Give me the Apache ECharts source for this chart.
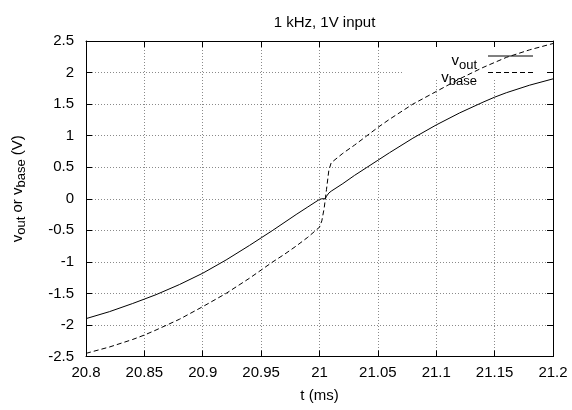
<!DOCTYPE html>
<html>
<head>
<meta charset="utf-8">
<script src="https://cdn.jsdelivr.net/npm/echarts@6/dist/echarts.min.js"></script>
<style>html,body{margin:0;padding:0;background:#fff;}#c{width:572px;height:410px;}</style>
</head>
<body>
<div id="c"></div>
<script>
const title = '1 kHz, 1V input';
const xTicks = [20.8, 20.85, 20.9, 20.95, 21, 21.05, 21.1, 21.15, 21.2];
const yTicks = [-2.5, -2, -1.5, -1, -0.5, 0, 0.5, 1, 1.5, 2, 2.5];
const tOut = [20.80, 20.82, 20.84, 20.85, 20.86, 20.88, 20.90, 20.92, 20.94, 20.95, 20.96, 20.98, 20.99, 21.00, 21.002, 21.005, 21.006, 21.008, 21.01, 21.02, 21.03, 21.04, 21.05, 21.06, 21.08, 21.10, 21.12, 21.14, 21.15, 21.16, 21.18, 21.20];
const vOut = [-1.90, -1.79, -1.66, -1.59, -1.52, -1.36, -1.18, -0.97, -0.74, -0.62, -0.50, -0.25, -0.13, -0.01, 0.0, 0.0, 0.04, 0.09, 0.12, 0.24, 0.37, 0.49, 0.61, 0.73, 0.96, 1.17, 1.36, 1.53, 1.61, 1.68, 1.80, 1.90];
const tBase = [20.80, 20.82, 20.84, 20.85, 20.86, 20.88, 20.90, 20.92, 20.94, 20.95, 20.96, 20.97, 20.98, 20.99, 21.00, 21.002, 21.004, 21.006, 21.008, 21.010, 21.02, 21.03, 21.04, 21.05, 21.06, 21.08, 21.10, 21.12, 21.14, 21.15, 21.16, 21.18, 21.20];
const vBase = [-2.45, -2.35, -2.23, -2.16, -2.08, -1.91, -1.71, -1.50, -1.26, -1.13, -1.00, -0.88, -0.75, -0.61, -0.45, -0.35, -0.15, 0.15, 0.45, 0.57, 0.72, 0.85, 0.99, 1.13, 1.26, 1.50, 1.70, 1.90, 2.08, 2.16, 2.24, 2.36, 2.46];
const legendNames = ['out', 'base'];

const FONT = 'Liberation Sans';
const chart = echarts.init(document.getElementById('c'), null, {renderer: 'canvas'});
const fmt = v => String(+v.toFixed(2));
const splitStyle = {show: true, lineStyle: {color: '#8a8a8a', type: [1, 2], width: 1}};
const subRich = {a: {fontFamily: FONT, fontSize: 15, color: '#000'}, b: {fontFamily: FONT, fontSize: 13, color: '#000', padding: [8, 0, 0, 0]}};
const legendGraphics = [{type: 'rect', z: 1, silent: true, shape: {x: 403, y: 42, width: 145, height: 38}, style: {fill: '#fff'}}];
legendNames.forEach((n, i) => {
  const ly = 56 + i * 16.5;
  legendGraphics.push({type: 'text', z: 5, x: 477, y: ly + 5, style: {text: '{a|v}{b|' + n + '}', rich: subRich, align: 'right', verticalAlign: 'middle', fill: '#000'}});
  legendGraphics.push({type: 'line', z: 5, shape: {x1: 488, y1: ly, x2: 533, y2: ly}, style: {stroke: '#000', lineWidth: 1, lineDash: i === 0 ? null : [5, 3]}});
});
chart.setOption({
  animation: false,
  backgroundColor: '#fff',
  title: {text: title, left: 319.5, textAlign: 'center', top: 10, textStyle: {fontFamily: FONT, fontSize: 15, fontWeight: 'normal', color: '#000'}},
  grid: {left: 86, right: 19, top: 41, bottom: 53.5},
  graphic: legendGraphics,
  xAxis: [{
    type: 'value', min: 20.8, max: 21.2, interval: 0.05,
    name: 't (ms)', nameLocation: 'middle', nameGap: 32,
    nameTextStyle: {fontFamily: FONT, fontSize: 15, color: '#000'},
    axisLine: {show: true, onZero: false, lineStyle: {color: '#000', width: 1}},
    axisTick: {show: true, inside: true, length: 6, lineStyle: {color: '#000'}},
    axisLabel: {fontFamily: FONT, fontSize: 15, color: '#000', margin: 9, formatter: fmt},
    splitLine: splitStyle
  }, {
    type: 'value', position: 'top', min: 20.8, max: 21.2, interval: 0.05, z: 3,
    axisLine: {show: true, onZero: false, lineStyle: {color: '#000', width: 1}},
    axisTick: {show: true, inside: true, length: 6, lineStyle: {color: '#000'}},
    axisLabel: {show: false}, splitLine: {show: false}
  }],
  yAxis: [{
    type: 'value', min: -2.5, max: 2.5, interval: 0.5,
    name: '{a|v}{b|out}{a| or v}{b|base}{a| (V)}', nameLocation: 'middle', nameGap: 58, nameRotate: 90,
    nameTextStyle: {fontFamily: FONT, fontSize: 15, color: '#000', padding: [0, 0, 0, 20], rich: subRich},
    axisLine: {show: true, onZero: false, lineStyle: {color: '#000', width: 1}},
    axisTick: {show: true, inside: true, length: 6, lineStyle: {color: '#000'}},
    axisLabel: {fontFamily: FONT, fontSize: 15, color: '#000', margin: 12, formatter: fmt},
    splitLine: splitStyle
  }, {
    type: 'value', position: 'right', min: -2.5, max: 2.5, interval: 0.5, z: 3,
    axisLine: {show: true, onZero: false, lineStyle: {color: '#000', width: 1}},
    axisTick: {show: true, inside: true, length: 6, lineStyle: {color: '#000'}},
    axisLabel: {show: false}, splitLine: {show: false}
  }],
  series: [{
    name: 'vout', type: 'line', showSymbol: false, symbol: 'none', z: 2,
    data: tOut.map((t, i) => [t, vOut[i]]),
    lineStyle: {color: '#000', width: 1, type: 'solid'}, itemStyle: {color: '#000'}
  }, {
    name: 'vbase', type: 'line', showSymbol: false, symbol: 'none', z: 2,
    data: tBase.map((t, i) => [t, vBase[i]]),
    lineStyle: {color: '#000', width: 1, type: [5, 3]}, itemStyle: {color: '#000'}
  }]
});
</script>
</body>
</html>
